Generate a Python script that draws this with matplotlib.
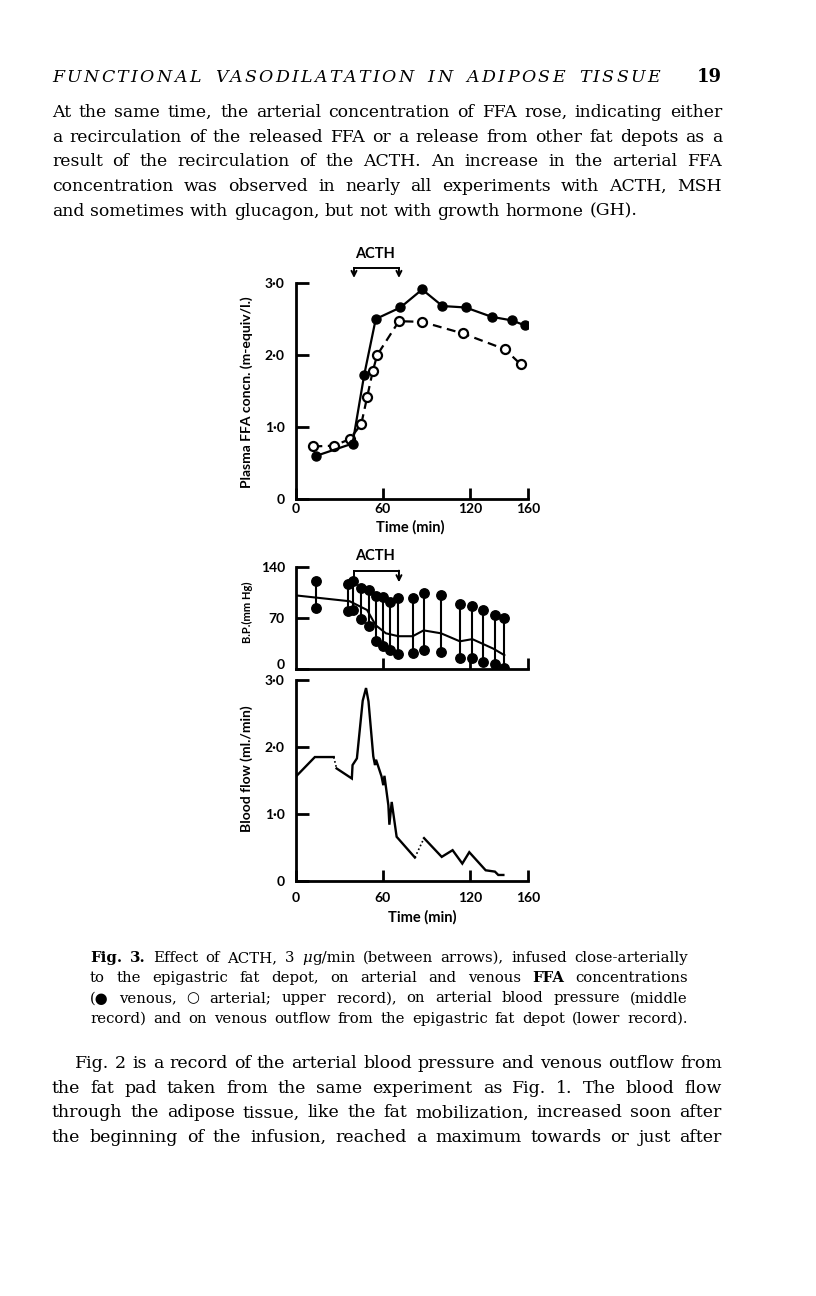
import re
import matplotlib
matplotlib.use("Agg")
import matplotlib.pyplot as plt

# ── Upper record: plasma FFA (m-equiv/l.) ───────────────────────
VEN_T = [14, 39, 47, 55, 72, 87, 101, 117, 135, 149, 158]
VEN_FFA = [0.60, 0.77, 1.72, 2.50, 2.66, 2.91, 2.68, 2.66, 2.53, 2.48, 2.41]
ART_T = [12, 26, 37, 45, 49, 53, 56, 71, 87, 115, 144, 155]
ART_FFA = [0.73, 0.74, 0.83, 1.04, 1.41, 1.78, 2.00, 2.47, 2.46, 2.30, 2.08, 1.87]

# ── Middle record: blood pressure (mm Hg) ───────────────────────
BP_T = [14, 36, 39.5, 44.6, 50, 55, 60, 65, 70.6, 80.5, 88.3, 100, 113, 121.6, 128.7, 137, 143.7]
BP_SYS = [121, 117, 121, 111, 108, 100, 99, 92, 97, 97, 105, 101, 89, 86, 81, 74, 70]
BP_DIA = [84, 79, 81, 68, 59, 38, 31, 26, 21, 22, 26, 24, 15, 15, 10, 7, 2]
MEAN_T = [0, 37, 49, 55, 62, 70.6, 80.5, 88, 100, 113, 121.6, 136, 143.7]
MEAN_BP = [101, 93, 81, 60, 49, 45, 45, 53, 49, 38, 41, 28, 19]

# ── Lower record: venous outflow (ml./min) ──────────────────────
FLOW_T = [0, 13, 26, 28, 38.5, 39, 42, 46, 48.3, 50, 53.3, 54.5, 55.2, 59, 60.2, 61,
          63.7, 64.4, 66, 69.4, 82, 88.3, 100.5, 108, 114.7, 119.5, 130.8, 137.2, 139.5, 143]
FLOW_V = [1.56, 1.85, 1.85, 1.68, 1.53, 1.73, 1.83, 2.69, 2.88, 2.68, 1.86, 1.73, 1.81, 1.56, 1.43, 1.57,
          1.13, 0.84, 1.18, 0.66, 0.35, 0.64, 0.36, 0.46, 0.26, 0.43, 0.16, 0.14, 0.09, 0.09]
FLOW_DOTTED = [2, 20]  # segment i -> i+1 drawn dotted (record interrupted)

ACTH_ON, ACTH_OFF = 40, 71

# ── Page text ───────────────────────────────────────────────────
HEADER = "FUNCTIONAL VASODILATATION IN ADIPOSE TISSUE"
PAGE_NO = "19"
PARA_TOP = [
    "At the same time, the arterial concentration of FFA rose, indicating either",
    "a recirculation of the released FFA or a release from other fat depots as a",
    "result of the recirculation of the ACTH. An increase in the arterial FFA",
    "concentration was observed in nearly all experiments with ACTH, MSH",
    "and sometimes with glucagon, but not with growth hormone (GH).",
]
CAPTION = [
    "*Fig.* *3.* Effect of ACTH, 3 _\u03bc_g/min (between arrows), infused close-arterially",
    "to the epigastric fat depot, on arterial and venous *FFA* concentrations",
    "(\u25cf venous, \u25cb arterial; upper record), on arterial blood pressure (middle",
    "record) and on venous outflow from the epigastric fat depot (lower record).",
]
PARA_BOT = [
    "Fig. 2 is a record of the arterial blood pressure and venous outflow from",
    "the fat pad taken from the same experiment as Fig. 1. The blood flow",
    "through the adipose tissue, like the fat mobilization, increased soon after",
    "the beginning of the infusion, reached a maximum towards or just after",
]

W, H = 816, 1296
SERIF = ["DejaVu Serif"]
SANS = ["Lato", "DejaVu Sans"]
plt.rcParams["font.family"] = SANS
plt.rcParams["font.weight"] = "bold"

fig = plt.figure(figsize=(W / 100, H / 100), dpi=100)
rend = fig.canvas.get_renderer()


def fx(px):
    return px / W


def fy(py):
    return 1 - py / H


def axes_px(left, top, right, bottom):
    return fig.add_axes([fx(left), fy(bottom), (right - left) / W, (bottom - top) / H])


TOK = re.compile(r"(\*[^*]+\*|_[^_]+_)")


def pieces(word):
    out = []
    for p in TOK.split(word):
        if not p:
            continue
        if p.startswith("*"):
            out.append((p[1:-1], dict(weight="bold")))
        elif p.startswith("_"):
            out.append((p[1:-1], dict(style="italic")))
        else:
            out.append((p, {}))
    return out


def draw_line(text, x0, x1, base, size, justify=True):
    words = []
    for w in text.split():
        parts = []
        for s, kw in pieces(w):
            props = dict(weight="normal", style="normal")
            props.update(kw)
            t = fig.text(0, fy(base), s, fontsize=size, family=SERIF,
                         va="baseline", ha="left", **props)
            parts.append((t, t.get_window_extent(rend).width))
        words.append(parts)
    widths = [sum(pw for _, pw in p) for p in words]
    gap = size * 100 / 72 * 0.33
    if justify and len(words) > 1:
        gap = (x1 - x0 - sum(widths)) / (len(words) - 1)
    x = x0
    for parts, wd in zip(words, widths):
        xx = x
        for t, pw in parts:
            t.set_x(fx(xx))
            xx += pw
        x += wd + gap


def natural_width(text, size):
    t = fig.text(0, 0, re.sub(r"[*_]", "", text), fontsize=size, family=SERIF, weight="normal")
    w = t.get_window_extent(rend).width
    t.remove()
    return w


def fit_size(lines, span, fill):
    widest = max(natural_width(s, 10) for s in lines)
    return 10 * span * fill / widest


def draw_block(lines, x0, x1, base0, step, first_indent=0, last_free=False, fill=0.97):
    size = fit_size(lines, x1 - x0, fill)
    for i, s in enumerate(lines):
        just = not (last_free and i == len(lines) - 1)
        draw_line(s, x0 + (first_indent if i == 0 else 0), x1, base0 + i * step, size, just)


def draw_tracked(text, x0, x1, base, size, **kw):
    ts = []
    for ch in text:
        if ch == " ":
            ts.append((None, size * 100 / 72 * 0.55))
            continue
        t = fig.text(0, fy(base), ch, fontsize=size, va="baseline", ha="left", **kw)
        ts.append((t, t.get_window_extent(rend).width))
    track = (x1 - x0 - sum(w for _, w in ts)) / (len(ts) - 1)
    x = x0
    for t, w in ts:
        if t is not None:
            t.set_x(fx(x))
        x += w + track


# ── Page text ───────────────────────────────────────────────────
draw_tracked(HEADER, 52, 660, 82, 12.5, family=SERIF, style="italic", weight="normal")
fig.text(fx(722), fy(82), PAGE_NO, fontsize=13, family=SERIF, weight="bold",
         ha="right", va="baseline")
draw_block(PARA_TOP, 52, 722, 117, 24.7, last_free=True)
draw_block(CAPTION, 90, 688, 962, 20.2, fill=0.96)
draw_block(PARA_BOT, 52, 722, 1068, 24.7, first_indent=23)


def style_axes(ax, xlim, ylim, yticks, ylabels, xticks, xlabels, ypad=8, xpad=3):
    ax.set_xlim(*xlim)
    ax.set_ylim(*ylim)
    for side in ("top", "right"):
        ax.spines[side].set_visible(False)
    for side in ("left", "bottom"):
        ax.spines[side].set_linewidth(2)
    ax.set_yticks(yticks)
    ax.set_yticklabels(ylabels)
    ax.set_xticks(xticks)
    ax.set_xticklabels(xlabels)
    ax.tick_params(axis="y", direction="in", length=9, width=2, labelsize=10, pad=ypad)
    ax.tick_params(axis="x", direction="in", length=8, width=2, labelsize=10, pad=xpad)
    ax.patch.set_alpha(0)


def bracket(ax, y_top, y_tip, left_arrow=True, left_tip=None):
    ax.plot([ACTH_ON, ACTH_OFF], [y_top, y_top], color="k", lw=1.4, clip_on=False)
    ends = [(ACTH_OFF, True), (ACTH_ON, left_arrow)]
    for t, arrow in ends:
        if arrow:
            ax.annotate("", xy=(t, y_tip), xytext=(t, y_top), annotation_clip=False,
                        arrowprops=dict(arrowstyle="->", lw=1.4, color="k",
                                        shrinkA=0, shrinkB=0, mutation_scale=9))
        else:
            ax.plot([t, t], [y_top, left_tip], color="k", lw=1.4, clip_on=False)


# ── Upper record ────────────────────────────────────────────────
ax1 = axes_px(296, 283, 528, 499)
style_axes(ax1, (0, 160), (0, 3), [0, 1, 2, 3], ["0", "1·0", "2·0", "3·0"],
           [0, 60, 120, 160], ["0", "60", "120", "160"])
ax1.plot(ART_T, ART_FFA, color="k", lw=1.6, ls=(0, (4, 2.5)), marker="o", ms=6.5,
         mfc="white", mec="k", mew=1.6, zorder=3)
ax1.plot(VEN_T, VEN_FFA, color="k", lw=1.6, marker="o", ms=6.5, mfc="k", mec="k", zorder=4)
bracket(ax1, 3.21, 3.07)
ax1.text((ACTH_ON + ACTH_OFF) / 2 - 1, 3.40, "ACTH", ha="center", va="center",
         fontsize=10.5, clip_on=False)
fig.text(fx(247), fy(392), "Plasma FFA concn. (m-equiv/l.)", rotation=90,
         ha="center", va="center", fontsize=10)
fig.text(fx(410), fy(527), "Time (min)", ha="center", va="center", fontsize=10.5)

# ── Middle record ───────────────────────────────────────────────
ax2 = axes_px(296, 567, 528, 669)
style_axes(ax2, (0, 160), (0, 140), [0, 70, 140], ["0", "70", "140"],
           [60, 120, 160], ["", "", ""])
ax2.get_yticklabels()[0].set_verticalalignment("baseline")
ax2.vlines(BP_T, BP_DIA, BP_SYS, color="k", lw=1.5)
ax2.plot(BP_T, BP_SYS, "o", color="k", ms=6.8)
ax2.plot(BP_T, BP_DIA, "o", color="k", ms=6.8)
ax2.plot(MEAN_T, MEAN_BP, color="k", lw=1.5)
bracket(ax2, 135, 119, left_arrow=False, left_tip=121)
ax2.text((ACTH_ON + ACTH_OFF) / 2 - 1, 155, "ACTH", ha="center", va="center",
         fontsize=10.5, clip_on=False)
fig.text(fx(247), fy(612), "B.P.(mm Hg)", rotation=90, ha="center", va="center", fontsize=8)

# ── Lower record ────────────────────────────────────────────────
ax3 = axes_px(296, 680, 528, 881)
style_axes(ax3, (0, 160), (0, 3), [0, 1, 2, 3], ["0", "1·0", "2·0", "3·0"],
           [0, 60, 120, 160], ["0", "60", "120", "160"], xpad=8)
start = 0
for i in FLOW_DOTTED + [len(FLOW_T) - 1]:
    ax3.plot(FLOW_T[start:i + 1], FLOW_V[start:i + 1], color="k", lw=1.7,
             solid_joinstyle="miter")
    if i < len(FLOW_T) - 1:
        ax3.plot(FLOW_T[i:i + 2], FLOW_V[i:i + 2], color="k", lw=1.2, ls=(0, (1, 1.5)))
    start = i + 1
fig.text(fx(247), fy(769), "Blood flow (ml./min)", rotation=90, ha="center", va="center",
         fontsize=10)
fig.text(fx(422), fy(917), "Time (min)", ha="center", va="center", fontsize=10.5)

fig.savefig("out.png", dpi=100, facecolor="white")
